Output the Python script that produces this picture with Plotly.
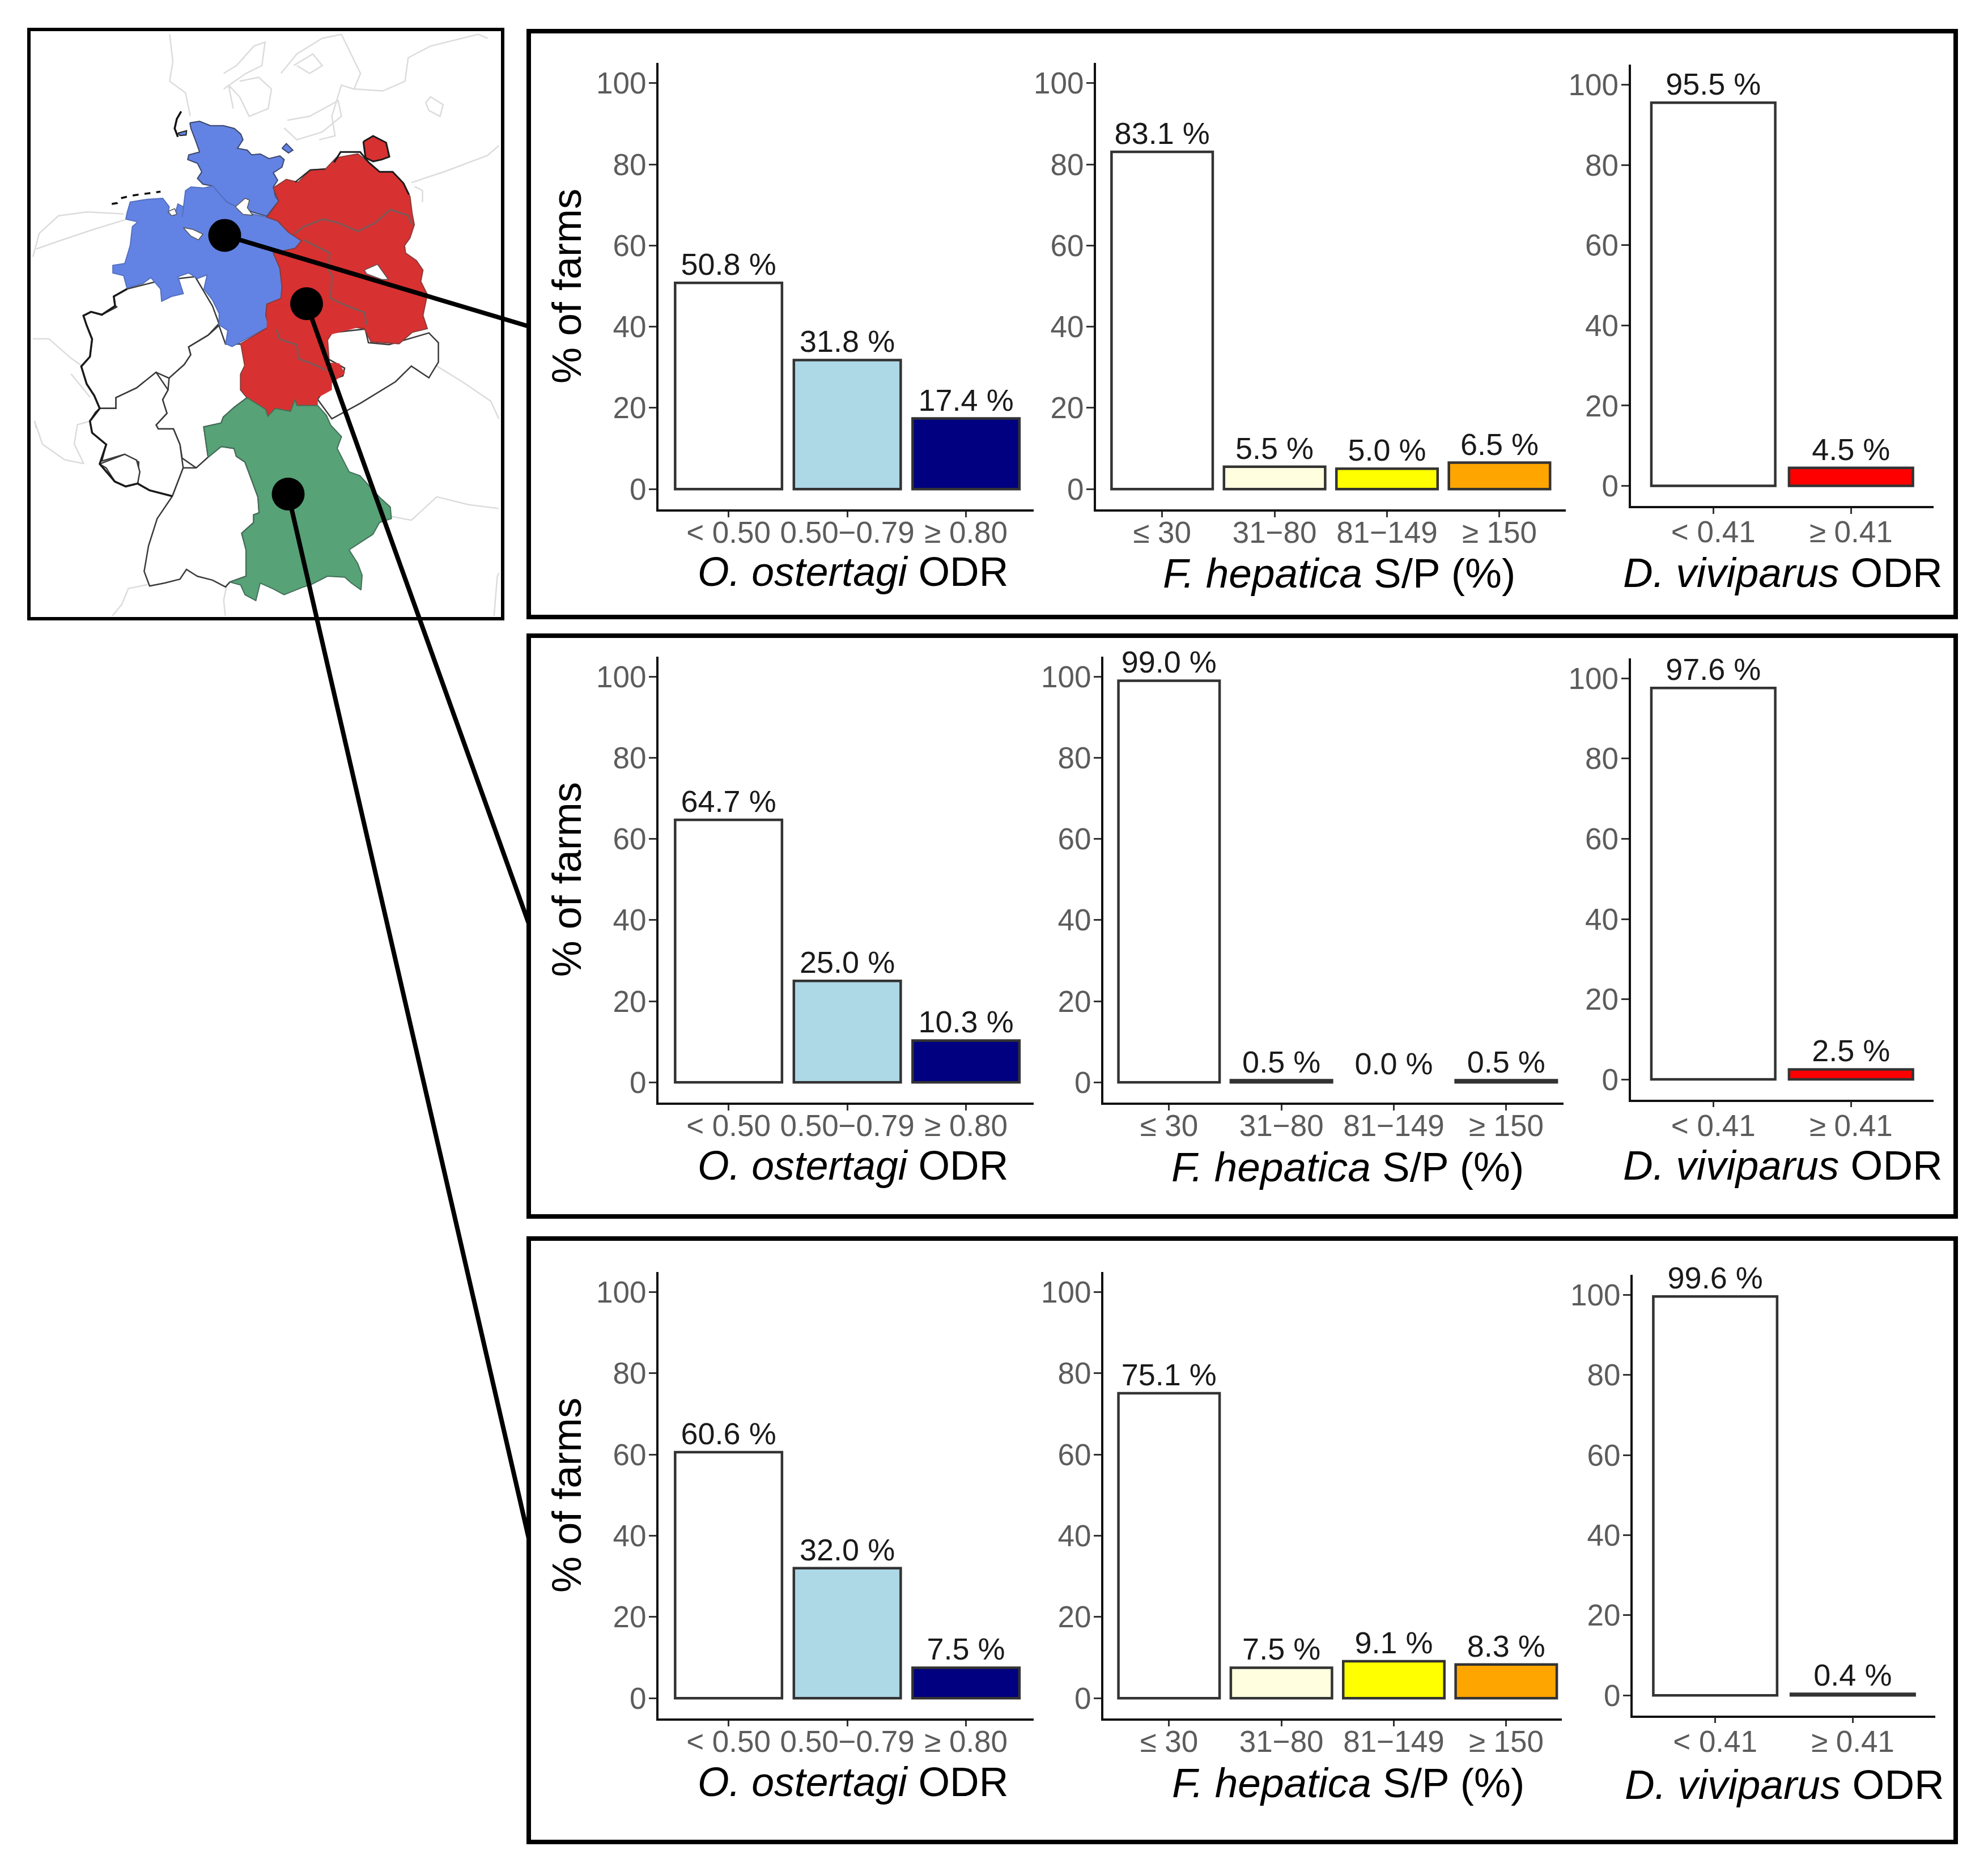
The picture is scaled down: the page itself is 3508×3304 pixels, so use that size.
import plotly.graph_objects as go

# ---------------- data ----------------
o_categories = ["< 0.50", "0.50\u22120.79", "\u2265 0.80"]
f_categories = ["\u2264 30", "31\u221280", "81\u2212149", "\u2265 150"]
d_categories = ["< 0.41", "\u2265 0.41"]

o_north = [50.8, 31.8, 17.4]
f_north = [83.1, 5.5, 5.0, 6.5]
d_north = [95.5, 4.5]
o_east = [64.7, 25.0, 10.3]
f_east = [99.0, 0.5, 0.0, 0.5]
d_east = [97.6, 2.5]
o_south = [60.6, 32.0, 7.5]
f_south = [75.1, 7.5, 9.1, 8.3]
d_south = [99.6, 0.4]

o_colors = ["#FFFFFF", "#ADD8E6", "#000080"]
f_colors = ["#FFFFFF", "#FFFFE0", "#FFFF00", "#FFA500"]
d_colors = ["#FFFFFF", "#FF0000"]

# ---- map outlines; three reading grids, converted below ----
# north grid
sh_n = [(405,80),(450,72),(500,95),(560,95),(610,110),(640,140),(650,170),(625,215),(670,225),(690,250),(730,245),(770,270),(820,255),(840,275),(830,315),(790,345),(810,385),(790,420),(800,470),(815,495),(790,530),(760,575),(700,555),(620,525),(575,500),(545,460),(510,415),(465,405),(440,375),(460,340),(440,295),(395,275),(400,250),(450,235),(440,200),(430,170),(410,110)]
fehmarn_n = [(830,215),(850,190),(880,225),(860,240)]
sylt_n = [(350,135),(390,122),(388,145),(360,148)]
ls_n = [(115,560),(130,500),(210,485),(280,480),(310,525),(305,555),(335,570),(350,510),(375,525),(370,580),(385,440),(410,420),(470,425),(510,415),(545,460),(575,500),(620,525),(700,565),(760,580),(810,600),(860,660),(920,705),(890,745),(790,770),(820,850),(830,950),(825,1010),(760,1040),(755,1100),(770,1160),(720,1190),(640,1240),(600,1265),(570,1250),(580,1180),(540,1150),(540,1090),(510,1020),(470,960),(485,885),(440,905),(400,875),(350,895),(375,985),(320,1000),(275,1025),(270,960),(225,900),(190,930),(115,955),(100,890),(50,875),(50,835),(105,825),(130,730),(140,630),(165,605),(110,590)]
bremen_n = [(375,635),(420,645),(465,670),(445,700),(410,680)]
hamburg_n = [(615,525),(660,480),(680,490),(670,530),(695,570),(650,565)]
bremerhaven_n = [(305,550),(335,535),(345,565),(320,572)]
east_n = [(790,425),(850,380),(905,395),(960,330),(1030,325),(1080,265),(1180,245),(1230,290),(1280,340),(1340,340),(1390,400),(1420,470),(1430,560),(1440,620),(1420,690),(1395,730),(1400,770),(1450,810),(1480,860),(1470,920),(1500,990),(1480,1100),(1500,1170),(1430,1190),(1370,1250),(1240,1240),(1210,1170),(1145,1160),(1060,1195),(1040,1230),(1050,1380),(660,1380),(640,1250),(770,1160),(755,1100),(760,1040),(825,1010),(830,950),(820,850),(790,770),(890,745),(920,705),(860,660),(810,600),(760,580),(815,495)]
berlin_n = [(1210,860),(1270,830),(1320,910),(1290,910),(1220,880)]
ruegen_n = [(1205,180),(1250,150),(1310,185),(1325,260),(1290,275),(1250,285),(1215,265)]
mv_line_n = [(885,670),(930,630),(1020,590),(1090,610),(1180,655),(1260,610),(1330,540),(1410,570),(1430,620)]
bb_line_n = [(930,700),(1050,770),(1045,860),(1060,890),(1055,1010),(1120,1045),(1210,1085),(1220,1150)]
coast_n = [(1070,290),(1100,235),(1190,235),(1230,290),(1280,340),(1340,340),(1390,400),(1415,460)]
coast2_n = [(890,395),(960,330),(1030,325)]
islands_n = [(45,510),(70,505),(85,480),(140,465),(270,445)]
west_sh_n = [(365,20),(345,60),(335,110),(350,155)]

# south grid
east_s = [(770,195),(890,120),(895,0),(1340,0),(1345,100),(1170,150),(1170,290),(1225,295),(1250,345),(1190,395),(1190,430),(1125,470),(1125,510),(1030,510),(1020,480),(1000,540),(930,525),(895,565),(885,530),(800,470),(770,430),(770,350),(805,270)]
th_line_s = [(935,120),(950,170),(1030,200),(1035,270),(1110,300),(1165,330)]
bavaria_s = [(800,470),(885,530),(895,565),(930,525),(1000,540),(1020,480),(1030,510),(1125,510),(1165,560),(1185,610),(1235,670),(1215,730),(1270,850),(1320,870),(1410,980),(1460,1030),(1465,1090),(1410,1110),(1380,1170),(1270,1250),(1310,1320),(1330,1380),(1325,1455),(1280,1420),(1250,1390),(1170,1385),(1100,1425),(1060,1440),(970,1480),(920,1450),(860,1420),(840,1510),(790,1480),(770,1430),(720,1415),(795,1385),(795,1250),(775,1165),(830,1110),(830,1070),(855,1060),(850,980),(810,860),(790,800),(750,770),(740,730),(680,720),(620,775),(600,620),(680,600),(690,570),(740,520)]
nrw_s = [(45,50),(80,30),(130,45),(200,5),(191,0),(185,-49),(246,-87),(400,-130),(560,-150),(640,0),(670,90),(620,150),(530,210),(540,250),(510,300),(440,370),(380,340),(290,420),(195,470),(195,525),(120,525),(95,460),(60,400),(35,310),(75,260),(85,170),(60,100)]
hesse_s = [(670,100),(700,195),(770,195),(805,270),(770,350),(770,430),(800,470),(740,520),(690,570),(680,600),(600,620),(620,775),(565,830),(500,780),(490,710),(460,630),(390,630),(380,610),(430,550),(410,480),(435,430),(440,370),(510,300),(540,250),(530,210),(620,150)]
rlp_s = [(120,525),(195,525),(195,470),(290,420),(380,340),(435,430),(410,480),(430,550),(380,610),(390,630),(460,630),(490,710),(505,830),(455,975),(350,945),(295,910),(300,800),(235,760),(130,795),(150,710),(85,650),(75,590),(100,545)]
saar_s = [(120,810),(235,760),(290,790),(305,850),(295,910),(240,925),(190,900),(150,830)]
bw_s = [(455,975),(505,830),(565,830),(620,775),(680,720),(740,730),(750,770),(790,800),(810,860),(850,980),(855,1060),(830,1070),(830,1110),(775,1165),(795,1250),(795,1385),(720,1415),(700,1440),(640,1405),(570,1385),(520,1350),(490,1400),(420,1420),(350,1435),(325,1360),(345,1230),(385,1090)]
west_s = [(246,-87),(185,-49),(191,0),(130,45),(80,30),(45,50),(60,100),(85,170),(75,260),(35,310),(60,400),(95,460),(120,525),(75,590),(85,650),(150,710),(120,810),(190,900),(240,925),(295,910),(350,945),(455,975)]

# whole-map grid
saxony_w = [(985,795),(1095,785),(1105,820),(1170,825),(1295,795),(1325,820),(1325,870),(1295,910),(1240,880),(1190,920),(1080,975),(990,1015),(945,965),(990,915),(1025,905),(1030,885),(975,860),(970,825)]
context_w = [
    [(50,600),(70,540),(130,495),(220,485),(335,490)],
    [(60,580),(130,560),(240,530),(340,505)],
    [(480,30),(490,100),(480,150),(530,180),(545,240)],
    [(650,130),(690,110),(745,60),(780,50),(770,110),(720,130),(650,170)],
    [(700,150),(760,140),(800,170),(790,220),(730,240),(700,190),(665,160),(680,220)],
    [(830,130),(880,80),(960,40),(1020,30),(1080,130),(1060,170),(1020,160),(990,240),(1000,290),(950,300)],
    [(850,250),(920,240),(1010,200),(1020,240),(960,280),(880,300),(840,270)],
    [(870,110),(930,80),(960,110),(920,130),(880,110)],
    [(1060,170),(1150,175),(1220,150),(1230,90),(1300,60),(1450,30),(1480,40)],
    [(1285,205),(1300,190),(1340,210),(1330,240),(1295,225),(1285,205)],
    [(1240,410),(1350,380),(1480,340),(1515,315)],
    [(1250,420),(1275,430),(1275,460)],
    [(1320,880),(1400,920),(1490,970),(1515,1015)],
    [(1175,1265),(1240,1275),(1320,1215),(1420,1235),(1515,1245)],
    [(1500,1520),(1510,1420),(1515,1410)],
    [(410,1440),(350,1450),(330,1490),(300,1520)],
    [(660,1440),(650,1480),(655,1520)],
    [(50,810),(100,810),(170,860),(205,880)],
    [(170,900),(190,920),(230,960)],
    [(235,1020),(190,1030),(180,1080),(210,1130),(150,1120),(80,1080),(55,1020),(60,1040)],
]

# sampled regions (page pixels)
dot_x = [396.5, 541, 508.5]
dot_y = [415.4, 536, 872]

# ---------------- page geometry (pixels of the 3508x3304 page) ----------------
W, H = 3508, 3304
FONT = "Liberation Sans"
BAR_LINE = "#333333"
TICK_TEXT = "#5c5c5c"

panels = [(933, 55, 3451, 1089), (933, 1122, 3451, 2147), (933, 2186, 3451, 3251)]
map_frame = (51, 52, 887, 1092)

rows = [
    dict(y=(111, 899), dy=(114, 893),
         o=o_north, f=f_north, d=d_north,
         xs=(1162, 1824, 1934, 2763, 2877.5, 3412),
         franges=(-0.588, 3.59),
         titles=((1505, 1009), (2363, 1012), (3146, 1010))),
    dict(y=(1158.5, 1946), dy=(1162, 1940.5),
         o=o_east, f=f_east, d=d_east,
         xs=(1162, 1824, 1947, 2759, 2877.5, 3412),
         franges=(-0.584, 3.51),
         titles=((1505, 2057), (2378, 2059), (3146, 2056))),
    dict(y=(2244.7, 3033), dy=(2250, 3027.6),
         o=o_south, f=f_south, d=d_south,
         xs=(1162, 1824, 1947, 2756, 2881, 3415),
         franges=(-0.584, 3.495),
         titles=((1505, 3145), (2379, 3146), (3149, 3149))),
]

titles = ["<i>O. ostertagi</i> ODR", "<i>F. hepatica</i> S/P (%)", "<i>D. viviparus</i> ODR"]
title_sizes = [71.5, 73, 73]

fig = go.Figure()
layout = dict(
    width=W, height=H, autosize=False, template="none",
    margin=dict(l=0, r=0, t=0, b=0), showlegend=False,
    paper_bgcolor="white", plot_bgcolor="rgba(0,0,0,0)",
    font=dict(family=FONT, color="#000000"),
    bargap=0.1, shapes=[], annotations=[],
)

ax = 0
for row in rows:
    groups = [
        (o_categories, row["o"], o_colors, row["y"], (-0.59, 2.57), -18),
        (f_categories, row["f"], f_colors, row["y"], row["franges"], -18),
        (d_categories, row["d"], d_colors, row["dy"], (-0.6, 1.6), -13),
    ]
    for k, (cats, vals, cols, (ytop, ybot), xr_range, xstand) in enumerate(groups):
        ax += 1
        xl, xr = row["xs"][2 * k], row["xs"][2 * k + 1]
        xname = "x" if ax == 1 else f"x{ax}"
        yname = "y" if ax == 1 else f"y{ax}"
        fig.add_trace(go.Bar(
            x=cats, y=vals, xaxis=xname, yaxis=yname, width=0.9,
            marker=dict(color=cols, line=dict(color=BAR_LINE,
                        width=[0 if v == 0 else 4.5 for v in vals])),
            text=[f"{v:.1f} %" for v in vals], textposition="outside",
            textfont=dict(size=54, color="#1a1a1a", family=FONT),
            constraintext="none", cliponaxis=False, hoverinfo="skip",
        ))
        layout["xaxis" if ax == 1 else f"xaxis{ax}"] = dict(
            domain=[xl / W, xr / W], anchor=yname, type="category",
            categoryorder="array", categoryarray=cats,
            range=list(xr_range), showgrid=False, zeroline=False,
            showline=True, linecolor="#111111", linewidth=3.5,
            ticks="outside", ticklen=10, tickwidth=3, tickcolor="#333333",
            ticklabelstandoff=xstand,
            tickfont=dict(size=53, color=TICK_TEXT, family=FONT),
            tickangle=0, automargin=False,
        )
        ydict = dict(
            domain=[1 - ybot / H, 1 - ytop / H], anchor=xname,
            range=[-5, 105], tickvals=[0, 20, 40, 60, 80, 100],
            showgrid=False, zeroline=False,
            showline=True, linecolor="#111111", linewidth=4,
            ticks="outside", ticklen=13, tickwidth=3, tickcolor="#333333",
            ticklabelstandoff=-6,
            tickfont=dict(size=53, color=TICK_TEXT, family=FONT),
            automargin=False,
        )
        if k == 0:
            ydict["title"] = dict(text="% of farms", standoff=4,
                                  font=dict(size=72, color="#000000", family=FONT))
        layout["yaxis" if ax == 1 else f"yaxis{ax}"] = ydict
        tx, ty = row["titles"][k]
        layout["annotations"].append(dict(
            text=titles[k], x=tx / W, y=1 - ty / H, xref="paper", yref="paper",
            xanchor="center", yanchor="middle", showarrow=False,
            font=dict(size=title_sizes[k], color="#000000", family=FONT),
        ))

# ---------------- map ----------------
mx, my = "x10", "y10"
layout["xaxis10"] = dict(domain=[map_frame[0] / W, map_frame[2] / W],
                         range=[map_frame[0], map_frame[2]],
                         anchor="y10", visible=False, fixedrange=True)
layout["yaxis10"] = dict(domain=[1 - map_frame[3] / H, 1 - map_frame[1] / H],
                         range=[map_frame[3], map_frame[1]],
                         anchor="x10", visible=False, fixedrange=True)

def from_n(pts):
    return [180 + p[0] * 0.3827 for p in pts], [190 + p[1] * 0.3333 for p in pts]

def from_s(pts):
    return [130 + p[0] * 0.3827 for p in pts], [540 + p[1] * 0.3444 for p in pts]

def from_w(pts):
    return [30 + p[0] * 0.5612 for p in pts], [40 + p[1] * 0.6888 for p in pts]

def line(xy, color, width, dash="solid"):
    fig.add_trace(go.Scatter(x=xy[0], y=xy[1], mode="lines", xaxis=mx, yaxis=my,
                             line=dict(color=color, width=width, dash=dash), hoverinfo="skip"))

def poly(xy, fill, edge, width=2.0):
    xs, ys = xy
    fig.add_trace(go.Scatter(x=xs + xs[:1], y=ys + ys[:1], mode="lines", fill="toself",
                             fillcolor=fill, xaxis=mx, yaxis=my,
                             line=dict(color=edge, width=width), hoverinfo="skip"))

for pts in context_w:
    line(from_w(pts), "#dcdcdc", 2.5)

BLUE, RED, GREEN = "#6283E4", "#D83131", "#57A277"
OUT = "#3a3a3a"
for pts in [nrw_s, hesse_s, rlp_s, saar_s, bw_s]:
    poly(from_s(pts), "#FFFFFF", OUT, 2.5)
poly(from_w(saxony_w), "#FFFFFF", OUT, 2.5)
line(from_s(west_s), "#1a1a1a", 3.5)

poly(from_n(sh_n), BLUE, "#3c4668")
poly(from_n(fehmarn_n), BLUE, "#3c4668")
poly(from_n(sylt_n), BLUE, "#222222")
poly(from_n(ls_n), BLUE, "#5570c0")
poly(from_n(east_n), RED, "#8a3c3c")
poly(from_s(east_s), RED, RED, 0.5)
poly(from_n(ruegen_n), RED, "#1a1a1a", 3)
poly(from_s(bavaria_s), GREEN, "#44705a")
for pts in [hamburg_n, bremen_n, bremerhaven_n, berlin_n]:
    poly(from_n(pts), "#FFFFFF", "#555555", 1.5)
for pts in [mv_line_n, bb_line_n]:
    line(from_n(pts), "#7a5a5a", 3)
line(from_s(th_line_s), "#7a5a5a", 3)
line(from_n(coast_n), "#1a1a1a", 3)
line(from_n(coast2_n), "#2a2a2a", 2.5)
line(from_n(islands_n), "#111111", 3.5, "dash")
line(from_n(west_sh_n), "#111111", 3.5)

# sampled-region markers and connectors
fig.add_trace(go.Scatter(x=dot_x, y=dot_y, mode="markers", xaxis=mx, yaxis=my,
                         marker=dict(color="#000000", size=58), hoverinfo="skip"))

for (x0, y0, x1, y1) in [(396.5, 415.4, 933, 576), (541, 536, 933, 1630), (508.5, 872, 933, 2715)]:
    layout["shapes"].append(dict(type="line", xref="paper", yref="paper",
                                 x0=x0 / W, y0=1 - y0 / H, x1=x1 / W, y1=1 - y1 / H,
                                 line=dict(color="#000000", width=8), layer="above"))

for (l, t, r, b), lw in [(p, 8) for p in panels] + [(map_frame, 6)]:
    layout["shapes"].append(dict(type="rect", xref="paper", yref="paper",
                                 x0=l / W, x1=r / W, y0=1 - b / H, y1=1 - t / H,
                                 line=dict(color="#000000", width=lw),
                                 fillcolor="rgba(0,0,0,0)", layer="above"))

fig.update_layout(**layout)
fig.write_html("out.html", post_script="document.body.style.margin='0';",
               config={"displayModeBar": False})
